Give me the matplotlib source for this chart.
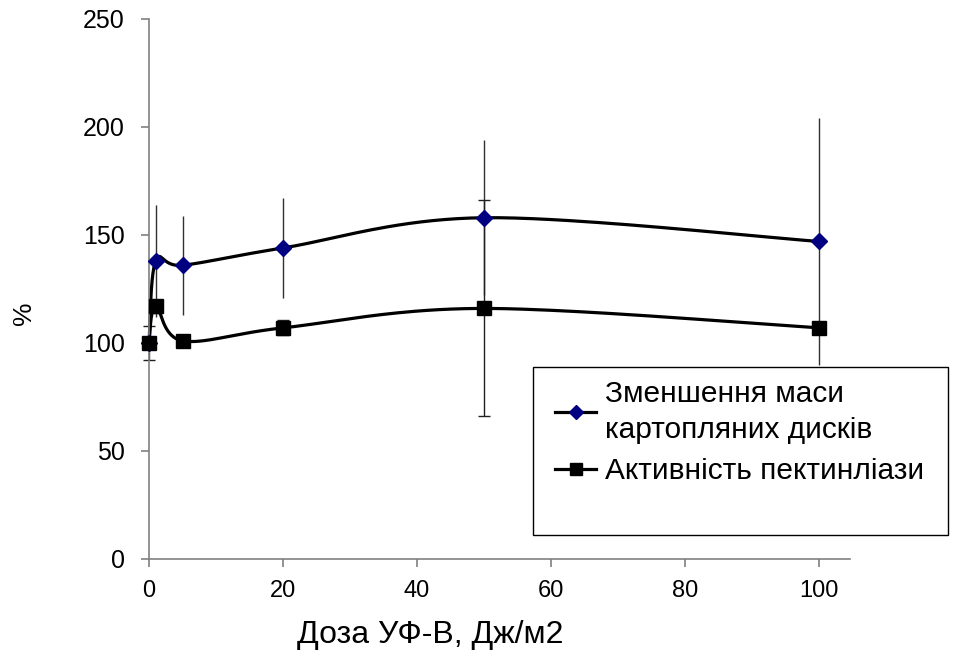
import numpy as np
import matplotlib
matplotlib.use("Agg")
import matplotlib.pyplot as plt
from matplotlib.lines import Line2D
from matplotlib.patches import Rectangle

# ---- data ----
dose = [0, 1, 5, 20, 50, 100]
mass_loss = [100, 138, 136, 144, 158, 147]
mass_loss_err = [0, 26, 23, 23, 36, 57]
pectin_lyase = [100, 117, 101, 107, 116, 107]
pectin_lyase_err = [8, 3, 2, 3.5, 50, 0]
xticks = [0, 20, 40, 60, 80, 100]
yticks = [0, 50, 100, 150, 200, 250]
label_mass = "Зменшення маси\nкартопляних дисків"
label_pect = "Активність пектинліази"
xlabel = "Доза УФ-В, Дж/м2"
ylabel = "%"

W, H = 955, 653
fig = plt.figure(figsize=(W / 100, H / 100), dpi=100)
ax = fig.add_axes([149 / W, 1 - 559 / H, (850 - 149) / W, (559 - 19) / H])
ax.set_xlim(0, 104.6)
ax.set_ylim(0, 250)

regular = ["Liberation Sans", "DejaVu Sans"]


def smooth(xs, ys, n=40):
    """Excel-like smoothed line (Catmull-Rom Bezier) computed in display space."""
    pts = ax.transData.transform(np.column_stack([xs, ys]))
    P = np.vstack([pts[0], pts, pts[-1]])
    out = []
    t = np.linspace(0, 1, n)[:, None]
    for i in range(1, len(P) - 2):
        p0, p3 = P[i], P[i + 1]
        p1 = p0 + (P[i + 1] - P[i - 1]) / 6
        p2 = p3 - (P[i + 2] - P[i]) / 6
        seg = ((1 - t) ** 3) * p0 + 3 * ((1 - t) ** 2) * t * p1 + 3 * (1 - t) * t ** 2 * p2 + t ** 3 * p3
        out.append(seg if i == 1 else seg[1:])
    out = np.vstack(out)
    d = ax.transData.inverted().transform(out)
    return d[:, 0], d[:, 1]


# error bars
eb1 = ax.errorbar(dose, mass_loss, yerr=mass_loss_err, fmt="none", ecolor="#303030",
                  elinewidth=1, capsize=0, zorder=1)
eb2 = ax.errorbar(dose, pectin_lyase, yerr=pectin_lyase_err, fmt="none", ecolor="#202020",
                  elinewidth=1, capsize=4, capthick=1, zorder=1)
for eb in (eb1, eb2):
    for art in eb.lines[1] + eb.lines[2]:
        art.set_clip_on(False)

# smoothed lines
sx, sy = smooth(dose, mass_loss)
ax.plot(sx, sy, color="black", lw=2.3, zorder=2, solid_capstyle="round", clip_on=False)
sx, sy = smooth(dose, pectin_lyase)
ax.plot(sx, sy, color="black", lw=2.3, zorder=2, solid_capstyle="round", clip_on=False)

# markers
ax.plot(dose, mass_loss, ls="none", marker="D", ms=8.5, mfc="#000080", mec="#000080",
        zorder=3, clip_on=False)
ax.plot(dose, pectin_lyase, ls="none", marker="s", ms=10, mfc="black", mec="black",
        zorder=4, clip_on=False)

# axes styling
for s in ["top", "right"]:
    ax.spines[s].set_visible(False)
for s in ["left", "bottom"]:
    ax.spines[s].set_color("#808080")
    ax.spines[s].set_linewidth(1.2)
ax.set_xticks(xticks)
ax.set_yticks(yticks)
ax.tick_params(axis="both", direction="out", length=6, width=1.2, color="#808080")
ax.tick_params(axis="y", pad=11.5)
ax.tick_params(axis="x", pad=9)
for lab in ax.get_yticklabels():
    lab.set_fontfamily(regular)
    lab.set_fontsize(18)
for lab in ax.get_xticklabels():
    lab.set_fontfamily(regular)
    lab.set_fontsize(17)

ax.set_xlabel(xlabel, fontsize=23, family=regular)
ax.xaxis.set_label_coords((430 - 149) / 701, (559 - 620) / 540)
ax.set_ylabel(ylabel, fontsize=19, family=regular)
ax.yaxis.set_label_coords((36 - 149) / 701, (559 - 313) / 540)

# legend box
fig.patches.append(Rectangle((533 / W, 1 - 535 / H), (948 - 533) / W, (535 - 367) / H,
                             transform=fig.transFigure, fill=True, facecolor="white",
                             edgecolor="black", lw=1, zorder=5))
h1 = Line2D([], [], color="black", lw=2.3, marker="D", ms=7.5, mfc="#000080", mec="#000080")
h2 = Line2D([], [], color="black", lw=2.3, marker="s", ms=8.5, mfc="black", mec="black")
leg = fig.legend([h1, h2], [label_mass, label_pect], loc="upper left",
                 bbox_to_anchor=(555 / W, 1 - 380 / H), frameon=False,
                 prop={"family": regular, "size": 21.5}, handlelength=1.38,
                 handletextpad=0.28, labelspacing=0.45, borderpad=0, borderaxespad=0)
for t in leg.get_texts():
    t.set_linespacing(1.35)
leg.set_zorder(6)

fig.savefig("out.png", dpi=100)
